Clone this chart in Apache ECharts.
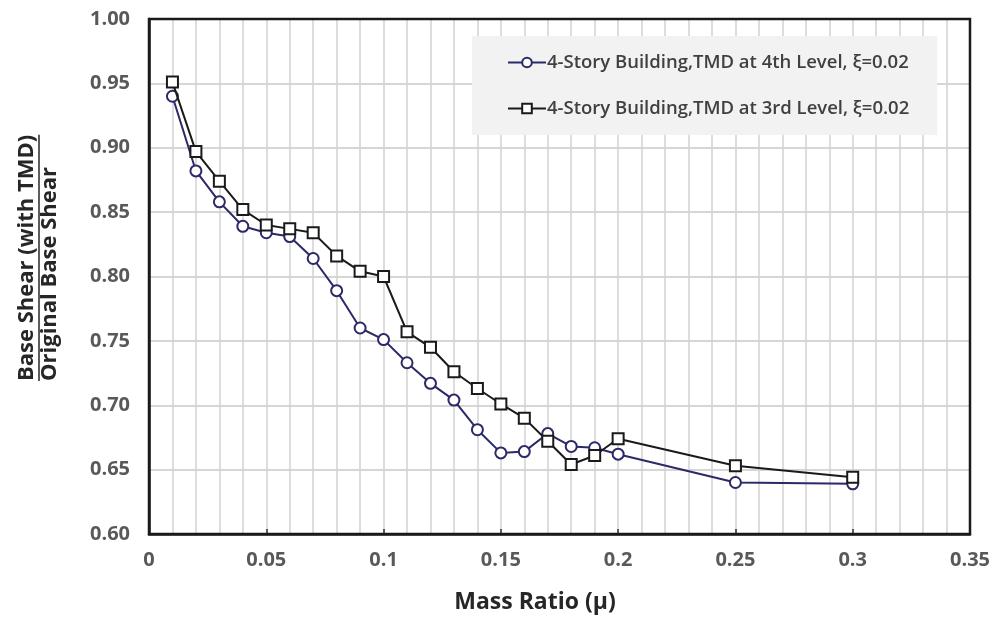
<!DOCTYPE html>
<html>
<head>
<meta charset="utf-8">
<script src="https://cdn.jsdelivr.net/npm/echarts@6/dist/echarts.min.js"></script>
<style>
  html, body { margin: 0; padding: 0; background: #fff; }
  #chart { width: 993px; height: 631px; }
</style>
</head>
<body>
<div id="chart"></div>
<script>
// Mass ratio values (x) shared by both series
var massRatio = [0.01, 0.02, 0.03, 0.04, 0.05, 0.06, 0.07, 0.08, 0.09, 0.10,
                 0.11, 0.12, 0.13, 0.14, 0.15, 0.16, 0.17, 0.18, 0.19, 0.20,
                 0.25, 0.30];

// Base shear ratio, TMD at 4th level
var shear4th = [0.940, 0.882, 0.858, 0.839, 0.834, 0.831, 0.814, 0.789, 0.760, 0.751,
                0.733, 0.717, 0.704, 0.681, 0.663, 0.664, 0.678, 0.668, 0.667, 0.662,
                0.640, 0.639];

// Base shear ratio, TMD at 3rd level
var shear3rd = [0.951, 0.897, 0.874, 0.852, 0.840, 0.837, 0.834, 0.816, 0.804, 0.800,
                0.757, 0.745, 0.726, 0.713, 0.701, 0.690, 0.672, 0.654, 0.661, 0.674,
                0.653, 0.644];

var seriesNames = [
  '4-Story Building,TMD at 4th Level, \u03BE=0.02',
  '4-Story Building,TMD at 3rd Level, \u03BE=0.02'
];

var xTitle = 'Mass Ratio (\u03BC)';
var yTitleTop = 'Base Shear (with TMD)';
var yTitleBottom = 'Original Base Shear';

function pairs(xs, ys) {
  return xs.map(function (x, i) { return [x, ys[i]]; });
}

var FONT = '"Open Sans", "DejaVu Sans", sans-serif';
var TITLE_FONT = 'bold 22px ' + FONT;
var chart = echarts.init(document.getElementById('chart'), null, { renderer: 'canvas' });

var gridStyle = { color: '#d2d2d2', width: 1.5 };

chart.setOption({
  animation: false,
  backgroundColor: '#ffffff',
  grid: { left: 149, right: 23, top: 19, bottom: 97, containLabel: false },
  legend: {
    left: 472,
    top: 36,
    orient: 'vertical',
    backgroundColor: '#f2f2f2',
    padding: [17, 28, 17, 35],
    itemGap: 27,
    itemWidth: 38,
    itemHeight: 12,
    textStyle: { fontFamily: FONT, fontSize: 18.5, fontWeight: 600, color: '#404040', padding: [0, 0, 0, -4] },
    data: seriesNames
  },
  xAxis: {
    type: 'value',
    min: 0,
    max: 0.35,
    interval: 0.05,
    axisLine: { show: true, onZero: false, lineStyle: { color: '#1a1a1a', width: 2.5 } },
    axisTick: { show: true, inside: true, length: 5, lineStyle: { color: '#333', width: 1.5 } },
    axisLabel: { margin: 16, fontFamily: FONT, fontSize: 20, fontWeight: 'bold', color: '#595959' },
    splitLine: { show: true, lineStyle: gridStyle },
    minorTick: { show: false, splitNumber: 5 },
    minorSplitLine: { show: true, lineStyle: gridStyle }
  },
  yAxis: {
    type: 'value',
    min: 0.60,
    max: 1.00,
    interval: 0.05,
    axisLine: { show: true, onZero: false, lineStyle: { color: '#1a1a1a', width: 2.5 } },
    axisTick: { show: false },
    axisLabel: {
      margin: 19, fontFamily: FONT, fontSize: 20, fontWeight: 'bold', color: '#595959',
      formatter: function (v) { return v.toFixed(2); }
    },
    splitLine: { show: true, lineStyle: { color: '#c8c8c8', width: 1.5 } }
  },
  series: [
    {
      name: seriesNames[0],
      type: 'line',
      data: pairs(massRatio, shear4th),
      symbol: 'circle',
      symbolSize: 11,
      lineStyle: { color: '#2b2966', width: 2 },
      itemStyle: { color: '#ffffff', borderColor: '#2b2966', borderWidth: 2 },
      z: 3
    },
    {
      name: seriesNames[1],
      type: 'line',
      data: pairs(massRatio, shear3rd),
      symbol: 'rect',
      symbolSize: 11,
      lineStyle: { color: '#1a1a1a', width: 2 },
      itemStyle: { color: '#ffffff', borderColor: '#1a1a1a', borderWidth: 2 },
      z: 4
    }
  ]
});

// Frame around the plot area, axis titles (the y title is a stacked fraction)
var tl = chart.convertToPixel({ gridIndex: 0 }, [0, 1.0]);
var br = chart.convertToPixel({ gridIndex: 0 }, [0.35, 0.6]);

var ctx = document.createElement('canvas').getContext('2d');
ctx.font = TITLE_FONT;
var topWidth = ctx.measureText(yTitleTop).width;

chart.setOption({
  graphic: [
    {
      type: 'rect',
      z: 100,
      silent: true,
      shape: { x: tl[0], y: tl[1], width: br[0] - tl[0], height: br[1] - tl[1] },
      style: { fill: null, stroke: '#1a1a1a', lineWidth: 2.5 }
    },
    {
      type: 'text',
      x: 535,
      y: 602,
      style: {
        text: xTitle, font: 'bold 23px ' + FONT, fill: '#262626',
        align: 'center', verticalAlign: 'middle'
      }
    },
    {
      type: 'group',
      x: 38,
      y: 381,
      rotation: Math.PI / 2,
      children: [
        {
          type: 'text',
          x: 0, y: -11,
          style: {
            text: yTitleTop, font: TITLE_FONT, fill: '#262626',
            align: 'left', verticalAlign: 'middle'
          }
        },
        {
          type: 'line',
          shape: { x1: 0, y1: 1, x2: topWidth, y2: 1 },
          style: { stroke: '#262626', lineWidth: 1.5 }
        },
        {
          type: 'text',
          x: 0, y: 12,
          style: {
            text: yTitleBottom, font: TITLE_FONT, fill: '#262626',
            align: 'left', verticalAlign: 'middle'
          }
        }
      ]
    }
  ]
});
</script>
</body>
</html>
